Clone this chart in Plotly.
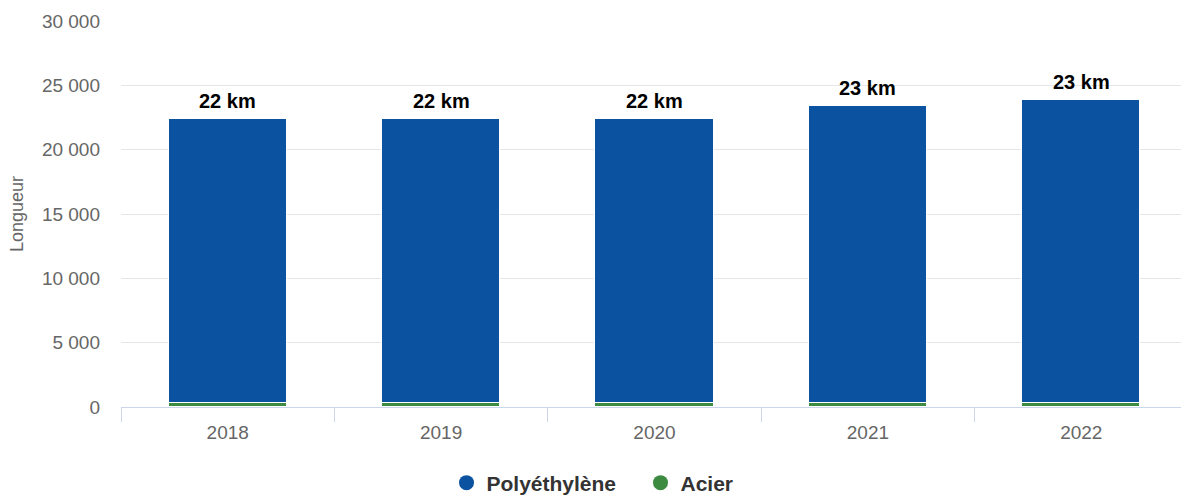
import math
import plotly.graph_objects as go

# Network length by material, in metres
years = ["2018", "2019", "2020", "2021", "2022"]
acier = [280, 280, 280, 280, 280]
polyethylene = [22130, 22130, 22130, 23110, 23610]

y_ticks = [0, 5000, 10000, 15000, 20000, 25000, 30000]

BLUE = "#0b53a0"
GREEN = "#3d8b40"
FONT = "Liberation Sans, Arial, sans-serif"

W, H = 1181, 496
ML, MT, MB = 121, 21, 89
plot_w = W - ML
plot_h = H - MT - MB
cat_px = 213.4  # pixel width of one category slot

totals = [a + p for a, p in zip(acier, polyethylene)]

fig = go.Figure()

fig.add_trace(go.Bar(
    x=years, y=acier, name="Acier", width=0.553,
    marker=dict(color=GREEN, line=dict(color="white", width=1)),
    showlegend=False, hoverinfo="skip",
))
fig.add_trace(go.Bar(
    x=years, y=polyethylene, name="Polyéthylène", width=0.553,
    marker=dict(color=BLUE, line=dict(color="white", width=1)),
    showlegend=False, hoverinfo="skip",
))

# Legend entries with round symbols
for name, color in [("Polyéthylène", BLUE), ("Acier", GREEN)]:
    fig.add_trace(go.Scatter(
        x=[None], y=[None], mode="markers", name=name,
        marker=dict(color=color, size=15, symbol="circle"),
    ))

# Stack totals in km above each column (x given as category index)
for i, t in enumerate(totals):
    fig.add_annotation(
        x=i, y=t, xref="x", yref="y",
        text=f"{math.floor(t / 1000)} km", showarrow=False,
        yanchor="middle", yshift=18,
        font=dict(family=FONT, size=20, color="#000000", weight="bold"),
    )

# Y axis title
fig.add_annotation(
    x=-(ML - 17) / plot_w, y=0.5, xref="paper", yref="paper",
    text="Longueur", textangle=-90, showarrow=False,
    xanchor="center", yanchor="middle",
    font=dict(family=FONT, size=18, color="#666666"),
)

right_edge = len(years) - 0.5 - (ML + len(years) * cat_px - W) / cat_px

fig.update_layout(
    width=W, height=H,
    margin=dict(l=ML, r=0, t=MT, b=MB, pad=0, autoexpand=False),
    paper_bgcolor="white", plot_bgcolor="white",
    barmode="stack", bargap=0,
    separators=", ",
    font=dict(family=FONT, color="#666666"),
    xaxis=dict(
        type="category",
        range=[-0.5, right_edge],
        tickson="boundaries", ticks="outside", ticklen=14,
        tickcolor="#ccd6eb", tickwidth=1,
        showline=True, linecolor="#ccd6eb", linewidth=1,
        showgrid=False, zeroline=False,
        ticklabelstandoff=8,
        tickfont=dict(family=FONT, size=19, color="#666666"),
    ),
    yaxis=dict(
        range=[0, 30000], tickmode="array", tickvals=y_ticks,
        tickformat=",d",
        showgrid=True, gridcolor="#e6e6e6", gridwidth=1,
        zeroline=False, showline=False, ticks="",
        ticklabelstandoff=20,
        tickfont=dict(family=FONT, size=19, color="#666666"),
    ),
    legend=dict(
        orientation="h", traceorder="normal",
        x=(446.5 - ML) / plot_w, xanchor="left",
        y=-(483 - (MT + plot_h)) / plot_h, yanchor="middle",
        entrywidth=149, entrywidthmode="pixels",
        font=dict(family=FONT, size=21, color="#333333", weight="bold"),
        bgcolor="rgba(0,0,0,0)",
    ),
)

fig.write_html("out.html")
